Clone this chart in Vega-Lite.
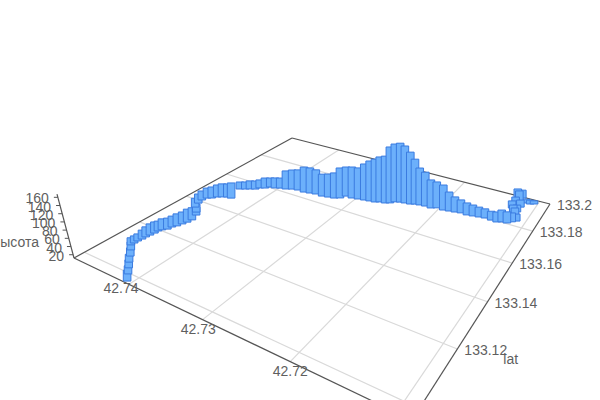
{"$schema":"https://vega.github.io/schema/vega-lite/v6.json","width":600,"height":400,"padding":0,"autosize":{"type":"none"},"background":"white","view":{"stroke":null},"config":{"text":{"font":"Liberation Sans","fontSize":14,"fill":"#5f5f5f"}},
"datasets":{
"frame":[
{"kind":"grid","lon":42.74,"lat":133.0966,"lon2":42.74,"lat2":133.2},{"kind":"grid","lon":42.73,"lat":133.0966,"lon2":42.73,"lat2":133.2},{"kind":"grid","lon":42.72,"lat":133.0966,"lon2":42.72,"lat2":133.2},{"kind":"grid","lon":42.71,"lat":133.0966,"lon2":42.71,"lat2":133.2},
{"kind":"grid","lon":42.7487,"lat":133.1,"lon2":42.7087,"lat2":133.1},{"kind":"grid","lon":42.7487,"lat":133.12,"lon2":42.7087,"lat2":133.12},{"kind":"grid","lon":42.7487,"lat":133.14,"lon2":42.7087,"lat2":133.14},{"kind":"grid","lon":42.7487,"lat":133.16,"lon2":42.7087,"lat2":133.16},{"kind":"grid","lon":42.7487,"lat":133.18,"lon2":42.7087,"lat2":133.18},
{"kind":"edge","lon":42.7487,"lat":133.0966,"lon2":42.7487,"lat2":133.2},{"kind":"edge","lon":42.7487,"lat":133.2,"lon2":42.7087,"lat2":133.2},{"kind":"edge","lon":42.7087,"lat":133.2,"lon2":42.7087,"lat2":133.0966},{"kind":"edge","lon":42.7487,"lat":133.0966,"lon2":42.7087,"lat2":133.0966}],
"lonlabels":[{"label":"42.74","lon":42.74,"lat":133.0966},{"label":"42.73","lon":42.73,"lat":133.0966},{"label":"42.72","lon":42.72,"lat":133.0966}],
"latlabels":[{"label":"133.12","lon":42.7087,"lat":133.12},{"label":"133.14","lon":42.7087,"lat":133.14},{"label":"133.16","lon":42.7087,"lat":133.16},{"label":"133.18","lon":42.7087,"lat":133.18},{"label":"133.2","lon":42.7087,"lat":133.2}],
"zlabels":[{"z":20},{"z":40},{"z":60},{"z":80},{"z":100},{"z":120},{"z":140},{"z":160}],
"track":[
{"lon":42.7406,"lat":133.0973,"height":37},{"lon":42.7415,"lat":133.0996,"height":31},{"lon":42.7423,"lat":133.1016,"height":31},{"lon":42.7431,"lat":133.1035,"height":31},{"lon":42.7439,"lat":133.1057,"height":32},{"lon":42.7448,"lat":133.1079,"height":32},{"lon":42.7456,"lat":133.1097,"height":30},{"lon":42.7456,"lat":133.1109,"height":30},{"lon":42.7456,"lat":133.1122,"height":30},{"lon":42.7455,"lat":133.1136,"height":35},{"lon":42.7455,"lat":133.115,"height":38},{"lon":42.7454,"lat":133.1164,"height":41},{"lon":42.7453,"lat":133.1179,"height":41},{"lon":42.7453,"lat":133.1193,"height":38},{"lon":42.7451,"lat":133.1204,"height":41},{"lon":42.7447,"lat":133.1216,"height":41},{"lon":42.7446,"lat":133.1232,"height":41},{"lon":42.7443,"lat":133.1245,"height":44},{"lon":42.7441,"lat":133.1262,"height":44},{"lon":42.7439,"lat":133.1278,"height":47},{"lon":42.7438,"lat":133.1296,"height":45},{"lon":42.7442,"lat":133.1325,"height":34},{"lon":42.7447,"lat":133.1339,"height":34},{"lon":42.7457,"lat":133.1361,"height":37},{"lon":42.7461,"lat":133.1386,"height":38},{"lon":42.7463,"lat":133.1408,"height":38},{"lon":42.7461,"lat":133.1427,"height":41},{"lon":42.7456,"lat":133.1436,"height":44},{"lon":42.7452,"lat":133.1451,"height":47},{"lon":42.7447,"lat":133.146,"height":50},{"lon":42.7441,"lat":133.1469,"height":50},{"lon":42.7435,"lat":133.147,"height":56},{"lon":42.7442,"lat":133.1536,"height":33},{"lon":42.7436,"lat":133.1546,"height":33},{"lon":42.7431,"lat":133.1555,"height":36},{"lon":42.7425,"lat":133.1564,"height":36},{"lon":42.7422,"lat":133.1579,"height":36},{"lon":42.7416,"lat":133.1588,"height":42},{"lon":42.7412,"lat":133.1604,"height":39},{"lon":42.7405,"lat":133.1607,"height":42},{"lon":42.7399,"lat":133.1616,"height":42},{"lon":42.7391,"lat":133.1621,"height":66},{"lon":42.7384,"lat":133.1632,"height":69},{"lon":42.7376,"lat":133.1637,"height":72},{"lon":42.7366,"lat":133.1636,"height":86},{"lon":42.7358,"lat":133.1641,"height":86},{"lon":42.735,"lat":133.1646,"height":83},{"lon":42.734,"lat":133.1645,"height":76},{"lon":42.7332,"lat":133.165,"height":79},{"lon":42.7324,"lat":133.1655,"height":85},{"lon":42.7318,"lat":133.1666,"height":99},{"lon":42.7314,"lat":133.1688,"height":97},{"lon":42.7305,"lat":133.1687,"height":102},{"lon":42.7297,"lat":133.1692,"height":102},{"lon":42.7289,"lat":133.1697,"height":116},{"lon":42.7282,"lat":133.1701,"height":127},{"lon":42.7275,"lat":133.1704,"height":135},{"lon":42.727,"lat":133.1713,"height":141},{"lon":42.7263,"lat":133.1716,"height":146},{"lon":42.7258,"lat":133.1725,"height":172},{"lon":42.7254,"lat":133.174,"height":178},{"lon":42.7248,"lat":133.1748,"height":181},{"lon":42.7242,"lat":133.1751,"height":175},{"lon":42.7235,"lat":133.1754,"height":160},{"lon":42.723,"lat":133.1762,"height":140},{"lon":42.7224,"lat":133.1765,"height":117},{"lon":42.7217,"lat":133.1768,"height":108},{"lon":42.7209,"lat":133.1766,"height":91},{"lon":42.7203,"lat":133.1777,"height":85},{"lon":42.7194,"lat":133.1775,"height":82},{"lon":42.7187,"lat":133.1779,"height":65},{"lon":42.718,"lat":133.1783,"height":54},{"lon":42.7173,"lat":133.1788,"height":48},{"lon":42.7165,"lat":133.1786,"height":45},{"lon":42.7158,"lat":133.179,"height":42},{"lon":42.7151,"lat":133.1794,"height":39},{"lon":42.7144,"lat":133.1798,"height":37},{"lon":42.7136,"lat":133.1796,"height":36},{"lon":42.7129,"lat":133.1794,"height":39},{"lon":42.7113,"lat":133.1965,"height":23},{"lon":42.7108,"lat":133.1965,"height":23},{"lon":42.7104,"lat":133.1972,"height":21},{"lon":42.7121,"lat":133.1992,"height":35},{"lon":42.7126,"lat":133.1985,"height":38},{"lon":42.7121,"lat":133.1959,"height":44},{"lon":42.7122,"lat":133.1927,"height":37},{"lon":42.7124,"lat":133.1907,"height":32},{"lon":42.7116,"lat":133.1927,"height":32},{"lon":42.7116,"lat":133.189,"height":31},{"lon":42.7119,"lat":133.1877,"height":34},{"lon":42.7115,"lat":133.1861,"height":34},{"lon":42.711,"lat":133.1832,"height":31},{"lon":42.7114,"lat":133.182,"height":36},{"lon":42.7124,"lat":133.1803,"height":44},{"lon":42.7118,"lat":133.1805,"height":42}]},
"layer":[
{"data":{"name":"frame"},"transform":[
{"calculate":"(42.7487-datum.lon)/0.04","as":"u"},{"calculate":"(datum.lat-133.0966)/0.1034","as":"v"},{"calculate":"1-0.30057*datum.u+0.47085*datum.v","as":"w"},{"calculate":"(214.17*datum.u+355.49*datum.v+74)/datum.w","as":"sx"},{"calculate":"(35.76*datum.u-55.02*datum.v+258)/datum.w","as":"sy"},
{"calculate":"(42.7487-datum.lon2)/0.04","as":"u2"},{"calculate":"(datum.lat2-133.0966)/0.1034","as":"v2"},{"calculate":"1-0.30057*datum.u2+0.47085*datum.v2","as":"w2"},{"calculate":"(214.17*datum.u2+355.49*datum.v2+74)/datum.w2","as":"sx2"},{"calculate":"(35.76*datum.u2-55.02*datum.v2+258)/datum.w2","as":"sy2"}],
"mark":{"type":"rule","strokeWidth":1.2},
"encoding":{"x":{"field":"sx","type":"quantitative","scale":{"domain":[0,600],"nice":false,"zero":false},"axis":null},"y":{"field":"sy","type":"quantitative","scale":{"domain":[400,0],"nice":false,"zero":false},"axis":null},"x2":{"field":"sx2"},"y2":{"field":"sy2"},"color":{"field":"kind","type":"nominal","scale":{"domain":["grid","edge"],"range":["#d9d9d9","#555555"]},"legend":null}}},
{"data":{"values":[{"z":12,"z2":168}]},"transform":[{"calculate":"74-(datum.z-12)*0.109","as":"sx"},{"calculate":"258-(datum.z-12)*0.41","as":"sy"},{"calculate":"74-(datum.z2-12)*0.109","as":"sx2"},{"calculate":"258-(datum.z2-12)*0.41","as":"sy2"}],
"mark":{"type":"rule","stroke":"#555","strokeWidth":1.2},
"encoding":{"x":{"field":"sx","type":"quantitative","scale":{"domain":[0,600]},"axis":null},"y":{"field":"sy","type":"quantitative","scale":{"domain":[400,0]},"axis":null},"x2":{"field":"sx2"},"y2":{"field":"sy2"}}},
{"data":{"name":"zlabels"},"transform":[{"calculate":"74-(datum.z-12)*0.109","as":"sx2"},{"calculate":"258-(datum.z-12)*0.41","as":"sy"},{"calculate":"datum.sx2-4","as":"sx"}],
"mark":{"type":"rule","stroke":"#555","strokeWidth":1},
"encoding":{"x":{"field":"sx","type":"quantitative","scale":{"domain":[0,600]},"axis":null},"x2":{"field":"sx2"},"y":{"field":"sy","type":"quantitative","scale":{"domain":[400,0]},"axis":null}}},
{"data":{"name":"track"},"transform":[
{"calculate":"(42.7487-datum.lon)/0.04","as":"u"},{"calculate":"(datum.lat-133.0966)/0.1034","as":"v"},{"calculate":"1-0.30057*datum.u+0.47085*datum.v","as":"w"},{"calculate":"(214.17*datum.u+355.49*datum.v+74)/datum.w","as":"sx"},{"calculate":"(35.76*datum.u-55.02*datum.v+258)/datum.w","as":"sy"},
{"calculate":"datum.sy-(datum.height-12)*0.41/datum.w","as":"top"},{"calculate":"datum.sx-3.8","as":"left"},{"calculate":"datum.sx+3.8","as":"right"}],
"mark":{"type":"rect","fill":"#6cb0fb","stroke":"#3a7be0","strokeWidth":1},
"encoding":{"x":{"field":"left","type":"quantitative","scale":{"domain":[0,600]},"axis":null},"x2":{"field":"right"},"y":{"field":"top","type":"quantitative","scale":{"domain":[400,0]},"axis":null},"y2":{"field":"sy"}}},
{"data":{"name":"lonlabels"},"transform":[
{"calculate":"(42.7487-datum.lon)/0.04","as":"u"},{"calculate":"(datum.lat-133.0966)/0.1034","as":"v"},{"calculate":"1-0.30057*datum.u+0.47085*datum.v","as":"w"},{"calculate":"(214.17*datum.u+355.49*datum.v+74)/datum.w","as":"sx"},{"calculate":"(35.76*datum.u-55.02*datum.v+258)/datum.w","as":"sy"},
{"calculate":"datum.sx+(datum.sx-290)*0.05","as":"lx"},{"calculate":"datum.sy+min(10,(datum.sx-129)*0.07+5)","as":"ly"}],
"mark":{"type":"text","align":"center","baseline":"middle"},
"encoding":{"x":{"field":"lx","type":"quantitative","scale":{"domain":[0,600]},"axis":null},"y":{"field":"ly","type":"quantitative","scale":{"domain":[400,0]},"axis":null},"text":{"field":"label"}}},
{"data":{"name":"latlabels"},"transform":[
{"calculate":"(42.7487-datum.lon)/0.04","as":"u"},{"calculate":"(datum.lat-133.0966)/0.1034","as":"v"},{"calculate":"1-0.30057*datum.u+0.47085*datum.v","as":"w"},{"calculate":"(214.17*datum.u+355.49*datum.v+74)/datum.w","as":"sx"},{"calculate":"(35.76*datum.u-55.02*datum.v+258)/datum.w","as":"sy"}],
"mark":{"type":"text","align":"left","baseline":"middle","dx":7,"dy":2},
"encoding":{"x":{"field":"sx","type":"quantitative","scale":{"domain":[0,600]},"axis":null},"y":{"field":"sy","type":"quantitative","scale":{"domain":[400,0]},"axis":null},"text":{"field":"label"}}},
{"data":{"values":[{"label":"lat","lon":42.7044,"lat":133.1231}]},"transform":[
{"calculate":"(42.7487-datum.lon)/0.04","as":"u"},{"calculate":"(datum.lat-133.0966)/0.1034","as":"v"},{"calculate":"1-0.30057*datum.u+0.47085*datum.v","as":"w"},{"calculate":"(214.17*datum.u+355.49*datum.v+74)/datum.w","as":"sx"},{"calculate":"(35.76*datum.u-55.02*datum.v+258)/datum.w","as":"sy"}],
"mark":{"type":"text","align":"center","baseline":"middle"},
"encoding":{"x":{"field":"sx","type":"quantitative","scale":{"domain":[0,600]},"axis":null},"y":{"field":"sy","type":"quantitative","scale":{"domain":[400,0]},"axis":null},"text":{"field":"label"}}},
{"data":{"name":"zlabels"},"transform":[{"calculate":"74-(datum.z-12)*0.109","as":"sx"},{"calculate":"258-(datum.z-12)*0.41","as":"sy"}],
"mark":{"type":"text","align":"right","baseline":"middle","dx":-9,"dy":2},
"encoding":{"x":{"field":"sx","type":"quantitative","scale":{"domain":[0,600]},"axis":null},"y":{"field":"sy","type":"quantitative","scale":{"domain":[400,0]},"axis":null},"text":{"field":"z","type":"nominal"}}},
{"data":{"values":[{"label":"высота","z":49}]},"transform":[{"calculate":"74-(datum.z-12)*0.109","as":"sx"},{"calculate":"258-(datum.z-12)*0.41","as":"sy"}],
"mark":{"type":"text","align":"right","baseline":"middle","dx":-31},
"encoding":{"x":{"field":"sx","type":"quantitative","scale":{"domain":[0,600]},"axis":null},"y":{"field":"sy","type":"quantitative","scale":{"domain":[400,0]},"axis":null},"text":{"field":"label"}}}
]}
